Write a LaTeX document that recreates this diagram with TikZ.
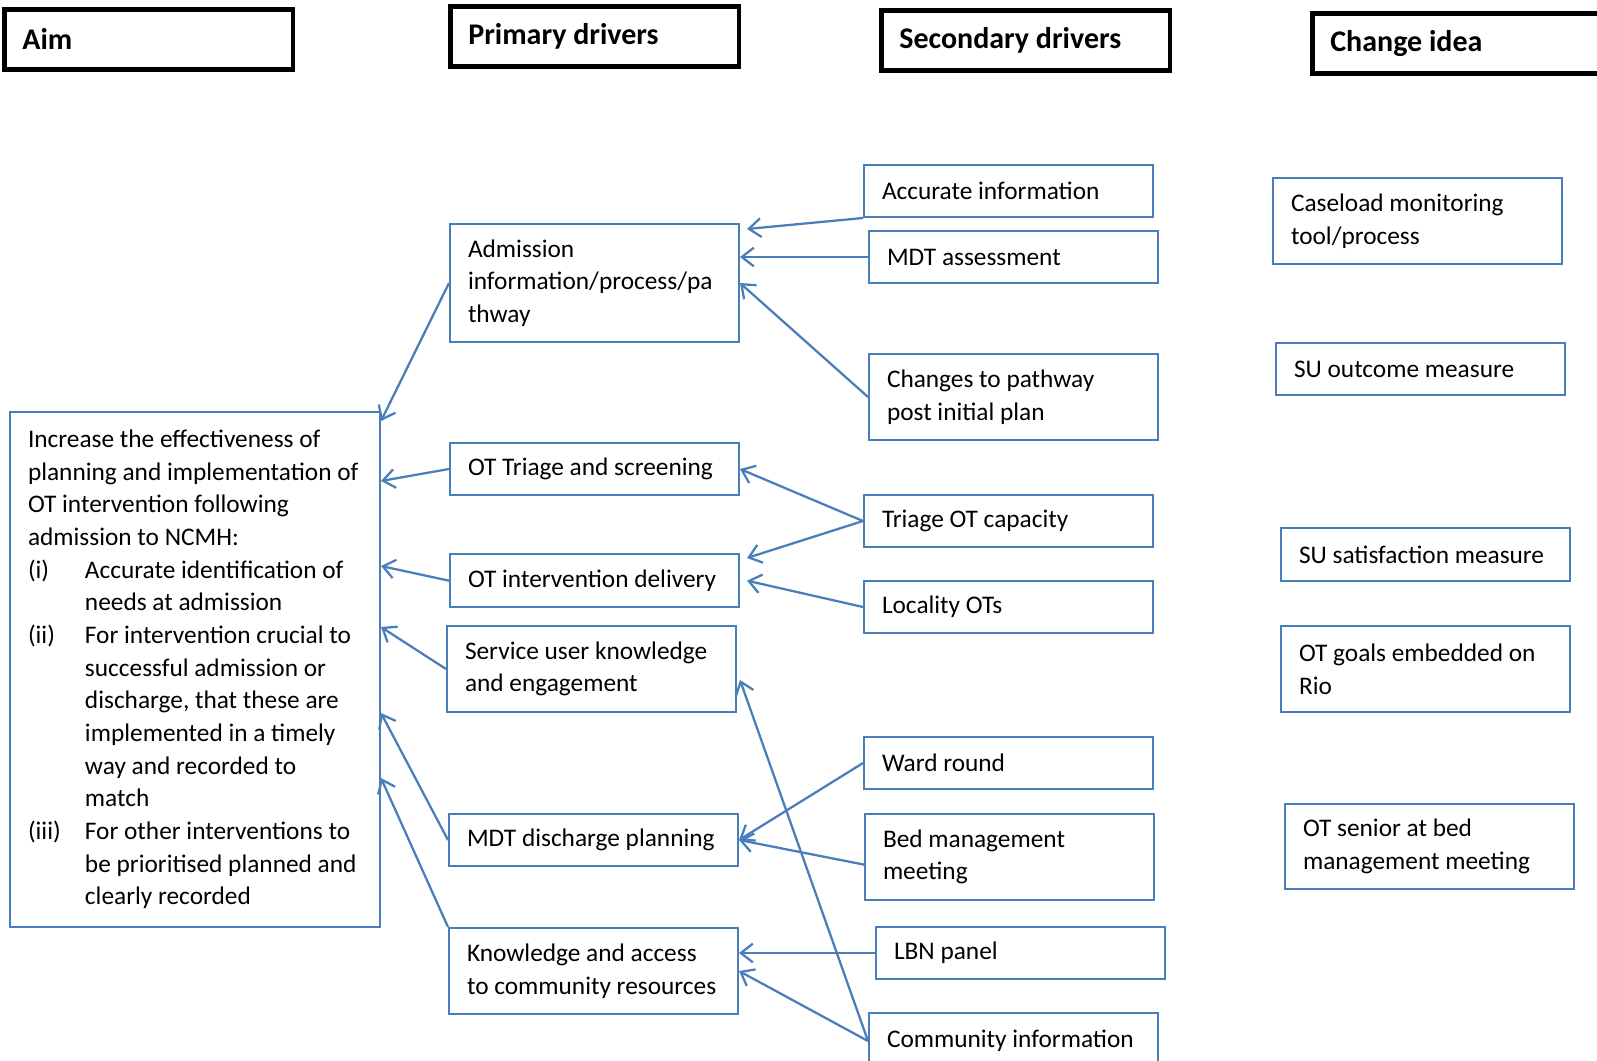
\documentclass[tikz,border=0pt]{standalone}
\usepackage{fontspec}
\setmainfont{Carlito}
\usetikzlibrary{arrows.meta}

\definecolor{driverblue}{RGB}{74,126,187}
\newcommand{\aimlabel}[1]{\makebox[42.75pt][l]{#1}}
\newcommand{\aimindent}{\hspace*{42.75pt}}

\tikzset{
  driver/.style={draw=driverblue, line width=1.5pt, anchor=north west, align=left,
    inner xsep=13.5pt, inner ysep=0pt, text width=189.75pt, minimum height=39pt,
    font=\fontsize{19}{24.5}\selectfont,
    execute at begin node={\spaceskip=0pt\xspaceskip=0pt}},
  header/.style={draw=black, line width=3.5pt, anchor=north west, align=left,
    inner xsep=13.5pt, inner ysep=0pt, text width=189.5pt, minimum height=45pt,
    font=\fontsize{22.5}{27}\selectfont\bfseries,
    execute at begin node={\spaceskip=0pt\xspaceskip=0pt}},
  link/.style={draw=driverblue, line width=1.7pt, -{Straight Barb[length=9pt,width=14pt]}},
}

\begin{document}
\begin{tikzpicture}[x=0.75pt, y=-0.75pt]
    \useasboundingbox (0,0) rectangle (1597,1061);
    \clip (0,0) rectangle (1597,1061);

    % column headers
    \node[header] (hAim) at (2,7) {Aim};
    \node[header] (hPri) at (448,4) {Primary drivers};
    \node[header] (hSec) at (879,8) {Secondary drivers};
    \node[header] (hChg) at (1310,11) {Change idea};

    % aim
    \node[driver, text width=250.5pt, minimum height=386.25pt] (aim) at (9,411) {Increase the effectiveness of\\
        planning and implementation of\\
        OT intervention following\\
        admission to NCMH:\\
        \aimlabel{(i)}Accurate identification of\\
        \aimindent needs at admission\\
        \aimlabel{(ii)}For intervention crucial to\\
        \aimindent successful admission or\\
        \aimindent discharge, that these are\\
        \aimindent implemented in a timely\\
        \aimindent way and recorded to\\
        \aimindent match\\
        \aimlabel{(iii)}For other interventions to\\
        \aimindent be prioritised planned and\\
        \aimindent clearly recorded};

    % primary drivers
    \node[driver, minimum height=88.5pt] (adm) at (449,223) {Admission\\information/process/pa\\thway};
    \node[driver] (tri) at (449,442) {OT Triage and screening};
    \node[driver, minimum height=40pt] (int) at (449,553) {OT intervention delivery};
    \node[driver, minimum height=64.5pt] (su) at (446,625) {Service user knowledge\\and engagement};
    \node[driver] (mdt) at (448,813) {MDT discharge planning};
    \node[driver, minimum height=64.5pt] (kno) at (448,927) {Knowledge and access\\to community resources};

    % secondary drivers
    \node[driver] (acc) at (863,164) {Accurate information};
    \node[driver] (mas) at (868,230) {MDT assessment};
    \node[driver, minimum height=64.5pt] (chg) at (868,353) {Changes to pathway\\post initial plan};
    \node[driver] (toc) at (863,494) {Triage OT capacity};
    \node[driver] (loc) at (863,580) {Locality OTs};
    \node[driver] (war) at (863,736) {Ward round};
    \node[driver, minimum height=64.5pt] (bed) at (864,813) {Bed management\\meeting};
    \node[driver] (lbn) at (875,926) {LBN panel};
    \node[driver, minimum height=42pt] (com) at (868,1012) {Community information};

    % change ideas
    \node[driver, minimum height=64.5pt] (cas) at (1272,177) {Caseload monitoring\\tool/process};
    \node[driver] (suo) at (1275,342) {SU outcome measure};
    \node[driver, minimum height=40pt] (sus) at (1280,527) {SU satisfaction measure};
    \node[driver, minimum height=64.5pt] (otg) at (1280,625) {OT goals embedded on\\Rio};
    \node[driver, minimum height=64pt] (ots) at (1284,803) {OT senior at bed\\management meeting};

    % secondary -> primary
    \draw[link] (acc.south west) -- ([shift={(7,6)}]adm.north east);
    \draw[link] (mas.west) -- (adm.east |- mas.west);
    \draw[link] (chg.west) -- (adm.east);
    \draw[link] (toc.west) -- (tri.east);
    \draw[link] (toc.west) -- ([shift={(7,5)}]int.north east);
    \draw[link] (loc.west) -- ([shift={(7,0)}]int.east);
    \draw[link] (war.west) -- (mdt.east);
    \draw[link] ([shift={(2,8)}]bed.west) -- (mdt.east);
    \draw[link] (lbn.west) -- (kno.east |- lbn.west);
    \draw[link] (com.west) -- (kno.east);
    \draw[link] (com.west) -- ([shift={(3,11)}]su.east);

    % primary -> aim
    \foreach \src/\dy in {adm.west/10, tri.west/70, int.west/155, su.west/216, mdt.west/302, kno.north west/367}
        \draw[link] (\src) -- ([shift={(0,\dy)}]aim.north east);
\end{tikzpicture}
\end{document}
